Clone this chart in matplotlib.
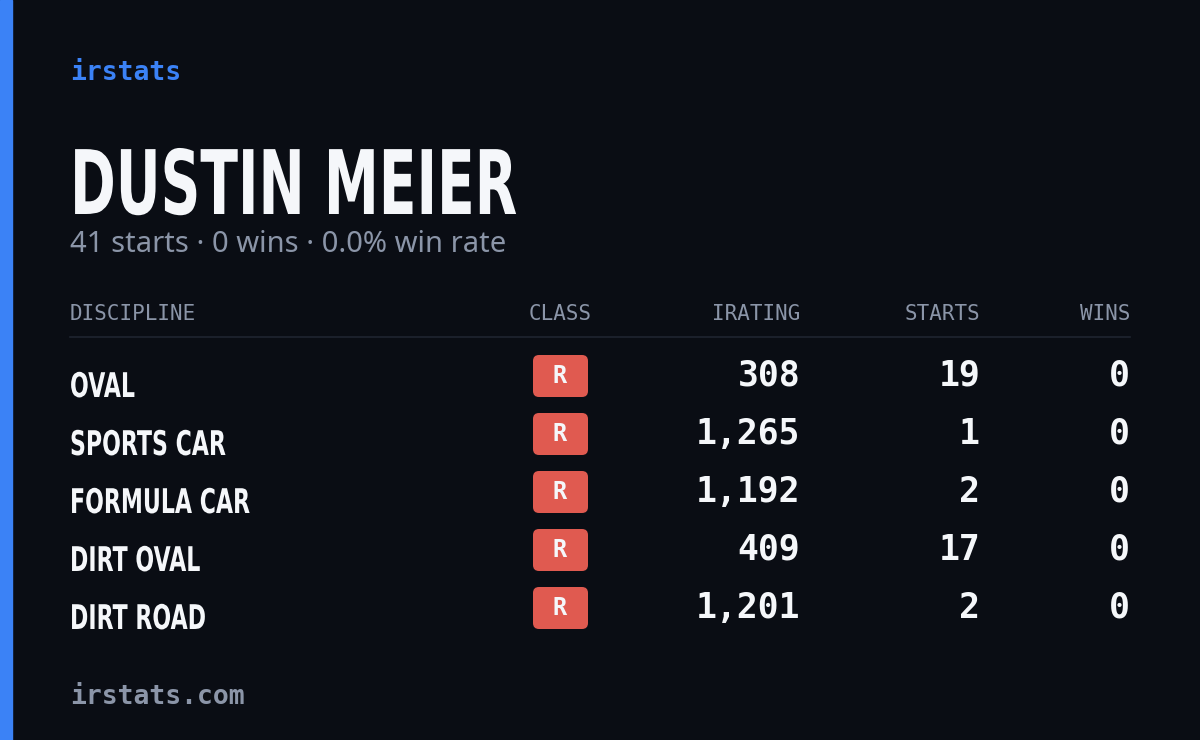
import matplotlib
matplotlib.use("Agg")
import matplotlib.pyplot as plt
from matplotlib.patches import FancyBboxPatch, Rectangle, PathPatch
from matplotlib.textpath import TextPath
from matplotlib.font_manager import FontProperties
from matplotlib.transforms import Affine2D

disciplines = ["OVAL", "SPORTS CAR", "FORMULA CAR", "DIRT OVAL", "DIRT ROAD"]
classes = ["R", "R", "R", "R", "R"]
iratings = [308, 1265, 1192, 409, 1201]
starts = [19, 1, 2, 17, 2]
wins = [0, 0, 0, 0, 0]
name = "DUSTIN MEIER"
subtitle = "41 starts · 0 wins · 0.0% win rate"

W, H = 1200, 740
bg = "#0a0d14"
fig = plt.figure(figsize=(12, 7.4), dpi=100, facecolor=bg)
ax = fig.add_axes([0, 0, 1, 1])
ax.set_xlim(0, W)
ax.set_ylim(H, 0)
ax.axis("off")
ax.set_facecolor(bg)

mono = "DejaVu Sans Mono"
grey = "#8b95a8"
white = "#f5f7fa"
bold = FontProperties(family="DejaVu Sans", weight="bold")

def narrow_text(x, base, s, size, xscale):
    # condensed look: squeeze a bold path horizontally
    tp = TextPath((0, 0), s, size=size, prop=bold)
    tr = Affine2D().scale(xscale, -1).translate(x, base)
    ax.add_patch(PathPatch(tr.transform_path(tp), color=white, lw=0))

ax.add_patch(Rectangle((0, 0), 12, H, color="#3b82f6"))

ax.text(70, 73, "irstats", family=mono, fontsize=19, color="#3b82f6", va="center", fontweight="bold")
narrow_text(70, 214, name, 89, 0.62)
ax.text(70, 245, subtitle, family="Noto Sans", fontsize=21, color=grey, va="center")

hy = 314
hkw = dict(family=mono, fontsize=15, color=grey, va="center")
ax.text(70, hy, "DISCIPLINE", **hkw)
ax.text(560, hy, "CLASS", ha="center", **hkw)
ax.text(800, hy, "IRATING", ha="right", **hkw)
ax.text(980, hy, "STARTS", ha="right", **hkw)
ax.text(1130, hy, "WINS", ha="right", **hkw)
ax.plot([70, 1130], [337, 337], color="#1f2430", lw=1.2)

for i, d in enumerate(disciplines):
    yc = 376 + 58 * i
    narrow_text(70, yc + 21, d, 34, 0.65)
    ax.add_patch(FancyBboxPatch((535, yc - 19), 51, 38,
                                boxstyle="round,pad=2,rounding_size=6",
                                color="#e05a50", lw=0))
    nkw = dict(family=mono, fontweight="bold", fontsize=25, color=white, va="center", ha="right")
    ax.text(560, yc, classes[i], family=mono, fontweight="bold", fontsize=17, color=white, va="center", ha="center")
    ax.text(800, yc, f"{iratings[i]:,}", **nkw)
    ax.text(980, yc, str(starts[i]), **nkw)
    ax.text(1130, yc, str(wins[i]), **nkw)

ax.text(70, 697, "irstats.com", family=mono, fontsize=19, color=grey, va="center", fontweight="bold")

fig.savefig("out.png", dpi=100, facecolor=bg)
